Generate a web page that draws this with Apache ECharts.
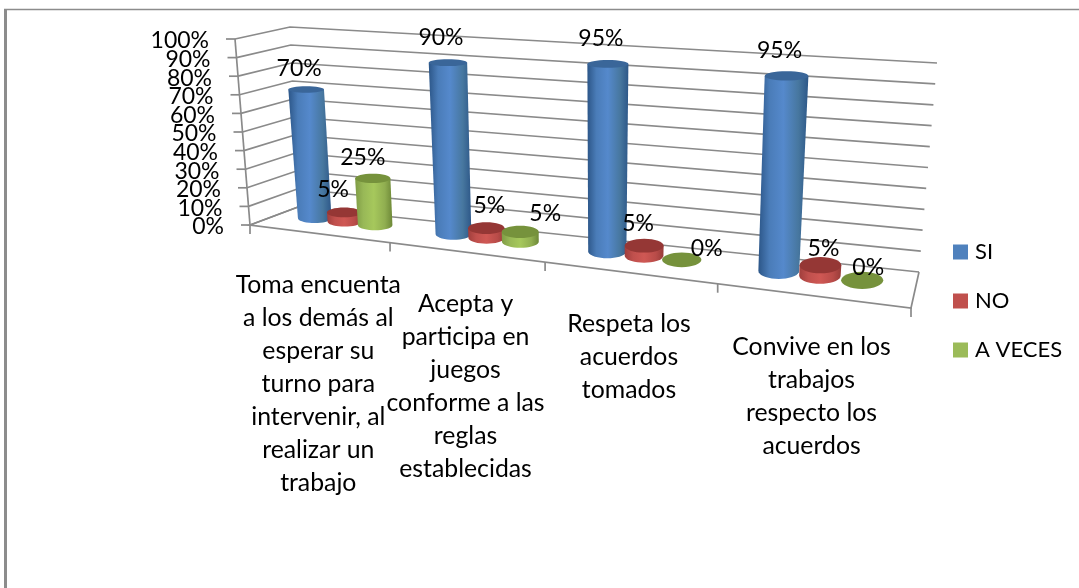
<!DOCTYPE html>
<html>
<head>
<meta charset="utf-8">
<title>Chart</title>
<script src="https://cdn.jsdelivr.net/npm/echarts@6/dist/echarts.min.js"></script>
<style>
  html, body { margin: 0; padding: 0; background: #fff; }
  #chart { width: 1079px; height: 588px; }
</style>
</head>
<body>
<div id="chart"></div>
<script>
const categories = [
  "Toma encuenta\na los demás al\nesperar su\nturno para\nintervenir, al\nrealizar un\ntrabajo",
  "Acepta y\nparticipa en\njuegos\nconforme a las\nreglas\nestablecidas",
  "Respeta los\nacuerdos\ntomados",
  "Convive en los\ntrabajos\nrespecto los\nacuerdos"
];
const siValues = [70, 90, 95, 95];
const noValues = [5, 5, 5, 5];
const aVecesValues = [25, 5, 0, 0];
const tickValues = [0, 10, 20, 30, 40, 50, 60, 70, 80, 90, 100];

const FONT = "Lato";
const W = 1079, H = 588;

// corners of the fake 3d box, x/y on screen
const box = {
  frontBottomL: [250, 225], frontBottomR: [911, 308],
  backBottomL: [298, 207], backBottomR: [919, 272],
  frontTopL: [235, 39], frontTopR: [927, 93],
  backTopL: [290, 27], backTopR: [937, 63]
};
const PERSPECTIVE = 1.24;
const BAR_DEPTH = 0.6;   // where the cylinders stand between front and back
const BAR_HALF_D = 0.25;
const BAR_LEAN = -3;     // cylinders lean a bit less to the right than the walls

// where a series sits inside its category, and its colours
const seriesLook = [
  { off: -0.056, top: "#3a6699", stops: ["#2c5688", "#4a7cb8", "#5589cc", "#47779f", "#2d5788"], legend: "#4f81bd" },
  { off: 0.000, top: "#953735", stops: ["#a03e3c", "#c0504d", "#cf5854", "#b94c49", "#983c39"], legend: "#c0504d" },
  { off: 0.056, top: "#76923c", stops: ["#7f9c45", "#98b857", "#a6c85c", "#90ae50", "#6d8837"], legend: "#9bbb59" }
];
const STOP_AT = [0, 0.22, 0.5, 0.8, 1];

// label nudges for the ones moved by hand in the original: [series, category] -> dx, dy
const labelNudge = {
  "0,0": [0, 4], "1,0": [-4, 2], "2,0": [-3, 4],
  "1,1": [10, 2], "2,1": [32, 7], "1,2": [1, 3], "2,2": [32, 14], "1,3": [10, 8], "2,3": [13, 12]
};

function lerp(a, b, t) { return a + (b - a) * t; }
function warp(u) { return u / (u + PERSPECTIVE * (1 - u)); }

function project(u, v, h) {
  const U = warp(u);
  const out = [];
  for (let k = 0; k < 2; k++) {
    const fb = lerp(box.frontBottomL[k], box.frontBottomR[k], U);
    const bb = lerp(box.backBottomL[k], box.backBottomR[k], U);
    const ft = lerp(box.frontTopL[k], box.frontTopR[k], U);
    const bt = lerp(box.backTopL[k], box.backTopR[k], U);
    out.push(lerp(lerp(fb, bb, v), lerp(ft, bt, v), h));
  }
  return out;
}

// hidden grid fills the page, so pixel / size gives 0..1 from the axes scales
function toUnit(api, cat, val) {
  const p = api.coord([cat, val]);
  return [p[0] / W, (H - p[1]) / H];
}

function line(points, color, width) {
  return {
    type: "polyline",
    shape: { points: points },
    style: { stroke: color || "#8a8a8a", lineWidth: width || 1.7, fill: null }
  };
}

function renderWall(params, api) {
  const val = api.value(1);
  const h = toUnit(api, 0, val)[1];
  const a = project(0, 0, h), b = project(0, 1, h), c = project(1, 1, h);
  return {
    type: "group",
    children: [
      line([a, b, c]),
      line([[a[0] - 9, a[1]], a]),
      {
        type: "text",
        style: {
          text: val + "%", x: a[0] - 26, y: a[1] + 2,
          align: "right", verticalAlign: "middle",
          fontFamily: FONT, fontSize: 23, fill: "#000"
        }
      }
    ]
  };
}

function renderFloor(params, api) {
  const i = api.value(0);
  const mid = toUnit(api, i, 0)[0];
  const step = api.size([1, 0])[0] / W;
  const left = project(mid - step / 2, 0, 0);
  const children = [line([left, [left[0], left[1] + 9]])];
  if (i === 0) {
    const fl = project(0, 0, 0), fr = project(1, 0, 0), br = project(1, 1, 0);
    children.push(line([project(0, 1, 0), fl, fr, br]));
    children.push(line([fr, [fr[0], fr[1] + 9]]));
    children.push(line([project(0, 0, 1), fl]));
  }
  const p = project(mid, 0, 0);
  children.push({
    type: "text",
    style: {
      text: categories[i], x: p[0], y: p[1] + 35,
      align: "center", verticalAlign: "top",
      lineHeight: 33, fontFamily: FONT, fontSize: 24.8, fill: "#000"
    }
  });
  return { type: "group", children: children };
}

function makeBarRenderer(s) {
  const look = seriesLook[s];
  return function (params, api) {
    const i = api.value(0), val = api.value(1);
    const u = toUnit(api, i, 0)[0] + look.off;
    const h = toUnit(api, i, val)[1];
    const v = BAR_DEPTH;

    const base = project(u, v, 0), top = project(u, v, h);
    top[0] += BAR_LEAN * h;
    const rx = lerp(16.5, 21.5, warp(u));
    const ry = Math.abs(project(u, v - BAR_HALF_D, 0)[1] - project(u, v + BAR_HALF_D, 0)[1]) / 2;
    // the higher up, the flatter the ellipse and the closer to the eye
    const topRx = rx + 1.5 * h;
    const topRy = ry * (1 - 0.45 * h);

    const children = [];
    if (val > 0) {
      const pts = [[top[0] - topRx, top[1]], [top[0] + topRx, top[1]]];
      for (let a = 0; a <= 180; a += 10) {
        const t = a * Math.PI / 180;
        pts.push([base[0] + rx * Math.cos(t), base[1] + ry * Math.sin(t)]);
      }
      children.push({
        type: "polygon",
        shape: { points: pts },
        style: {
          fill: {
            type: "linear", x: 0, y: 0, x2: 1, y2: 0,
            colorStops: look.stops.map((c, k) => ({ offset: STOP_AT[k], color: c }))
          }
        }
      });
    }
    children.push({
      type: "ellipse",
      shape: { cx: top[0], cy: top[1], rx: topRx, ry: topRy },
      style: { fill: look.top }
    });

    const nudge = labelNudge[s + "," + i] || [0, 0];
    children.push({
      type: "text",
      z2: 10,
      style: {
        text: val + "%", x: top[0] - 7 + nudge[0], y: top[1] - 25 + nudge[1],
        align: "center", verticalAlign: "middle",
        fontFamily: FONT, fontSize: 23, fill: "#000"
      }
    });
    return { type: "group", children: children };
  };
}

function barSeries(name, values, s) {
  return {
    name: name,
    type: "custom",
    silent: true,
    z: 5 + s,
    itemStyle: { color: seriesLook[s].legend },
    renderItem: makeBarRenderer(s),
    data: values.map((v, i) => [i, v])
  };
}

const chart = echarts.init(document.getElementById("chart"), null, { renderer: "canvas" });
chart.setOption({
  animation: false,
  backgroundColor: "#fff",
  grid: { left: 0, right: 0, top: 0, bottom: 0 },
  xAxis: { type: "category", data: categories, show: false },
  yAxis: { type: "value", min: 0, max: 100, interval: 10, show: false },
  legend: {
    data: ["SI", "NO", "A VECES"],
    orient: "vertical",
    left: 953,
    top: 241,
    padding: 0,
    icon: "rect",
    itemWidth: 15,
    itemHeight: 15,
    itemGap: 27,
    selectedMode: false,
    textStyle: { fontFamily: FONT, fontSize: 22, color: "#000", padding: [2, 0, 0, 2] }
  },
  graphic: [
    { type: "line", shape: { x1: 5.5, y1: 10, x2: 5.5, y2: 588 }, style: { stroke: "#8c8c8c", lineWidth: 3 } },
    { type: "line", shape: { x1: 4, y1: 9.5, x2: 1079, y2: 9.5 }, style: { stroke: "#8c8c8c", lineWidth: 1.5 } }
  ],
  series: [
    { type: "custom", silent: true, z: 1, renderItem: renderWall, data: tickValues.map(v => [0, v]) },
    { type: "custom", silent: true, z: 2, renderItem: renderFloor, data: categories.map((c, i) => [i, 0]) },
    barSeries("SI", siValues, 0),
    barSeries("NO", noValues, 1),
    barSeries("A VECES", aVecesValues, 2)
  ]
});
</script>
</body>
</html>
